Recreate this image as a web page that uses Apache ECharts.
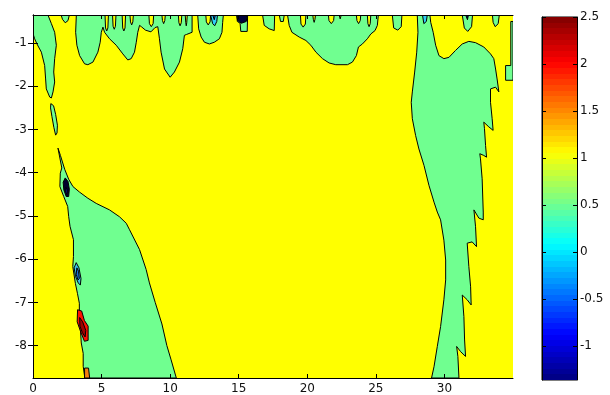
<!DOCTYPE html>
<html>
<head>
<meta charset="utf-8">
<script src="https://cdn.jsdelivr.net/npm/echarts@6/dist/echarts.min.js"></script>
<style>
html, body { margin: 0; padding: 0; background: #fff; }
#chart { width: 610px; height: 395px; }
</style>
</head>
<body>
<div id="chart"></div>
<script>
// axis ranges / ticks
const xRange = [0, 35]
const yRange = [-8.75, -0.35]
const xTicks = [0, 5, 10, 15, 20, 25, 30]
const yTicks = [-8, -7, -6, -5, -4, -3, -2, -1]
const cbRange = [-1.36, 2.5]
const cbTicks = [-1, -0.5, 0, 0.5, 1, 1.5, 2, 2.5]

// contour regions (level ~0.5, green), [x, y] in data units
const greenTopLeft = [[0, -0.35], [1.09, -0.35], [1.34, -0.55], [1.58, -0.75], [1.7, -1.05], [1.58, -1.36], [1.51, -1.67], [1.58, -1.9], [1.46, -2.13], [1.34, -2.27], [1.22, -2.25], [0.97, -2.06], [0.92, -1.83], [0.85, -1.52], [0.61, -1.21], [0.29, -1.02], [0.12, -0.9], [0, -0.78]]
const greenDrip1 = [[2.05, -0.35], [2.65, -0.35], [2.55, -0.48], [2.35, -0.53], [2.15, -0.45]]
const greenStrand = [[1.3, -2.4], [1.5, -2.45], [1.65, -2.65], [1.78, -2.9], [1.75, -3.08], [1.65, -3.13], [1.52, -2.95], [1.38, -2.7], [1.28, -2.5]]
const greenLobes = [[3.16, -0.35], [11.6, -0.35], [11.6, -0.75], [11.2, -0.8], [11.04, -0.82], [10.92, -1.13], [10.68, -1.44], [10.31, -1.67], [10.0, -1.79], [9.59, -1.6], [9.34, -1.21], [9.22, -0.9], [9.1, -0.62], [8.9, -0.64], [8.6, -0.74], [8.2, -0.7], [7.9, -0.62], [7.77, -0.59], [7.64, -0.75], [7.53, -0.98], [7.4, -1.21], [7.16, -1.36], [6.91, -1.39], [6.55, -1.25], [6.07, -1.05], [5.58, -0.9], [5.22, -0.75], [5.1, -0.63], [4.98, -0.75], [4.9, -0.98], [4.73, -1.21], [4.37, -1.44], [4.0, -1.5], [3.76, -1.48], [3.4, -1.29], [3.2, -1.05], [3.11, -0.75]]
const greenCyanArea = [[12.01, -0.35], [13.88, -0.35], [13.83, -0.52], [13.78, -0.75], [13.59, -0.9], [13.22, -0.98], [12.86, -1.02], [12.5, -0.98], [12.26, -0.86], [12.08, -0.67]]
const greenDarkArea = [[14.85, -0.35], [15.65, -0.35], [15.62, -0.73], [15.15, -0.73], [15.1, -0.54], [14.9, -0.5]]
const greenDrip2 = [[16.74, -0.35], [17.62, -0.35], [17.59, -0.71], [17.22, -0.67], [16.86, -0.59]]
const greenDrip3 = [[17.96, -0.35], [18.32, -0.35], [18.25, -0.5], [18.05, -0.5]]
const greenBasin = [[18.56, -0.35], [25.18, -0.35], [25.11, -0.59], [24.94, -0.71], [24.63, -0.79], [24.38, -0.9], [24.02, -1.02], [23.73, -1.09], [23.58, -1.29], [23.29, -1.44], [22.93, -1.5], [22.08, -1.5], [21.59, -1.46], [21.11, -1.36], [20.63, -1.21], [20.26, -1.05], [19.9, -0.94], [19.41, -0.86], [18.88, -0.75], [18.68, -0.59]]
const greenDrip4 = [[26.2, -0.35], [26.9, -0.35], [26.85, -0.62], [26.6, -0.7], [26.3, -0.65]]
const greenRightBand = [[28.02, -0.35], [28.07, -0.75], [27.98, -1.21], [27.83, -1.67], [27.66, -2.13], [27.58, -2.37], [27.66, -2.75], [27.9, -3.14], [28.14, -3.45], [28.51, -3.83], [28.87, -4.29], [29.24, -4.68], [29.48, -4.91], [29.72, -5.09], [29.96, -5.56], [30.09, -6.02], [30.09, -6.48], [29.96, -6.94], [29.72, -7.56], [29.48, -8.02], [29.24, -8.49], [29.06, -8.75],
  [31.06, -8.75], [30.98, -8.25], [30.89, -8.02], [31.18, -8.14], [31.54, -8.25], [31.47, -7.87], [31.42, -7.33], [31.3, -6.83], [31.66, -6.94], [31.95, -7.06], [31.91, -6.64], [31.78, -6.17], [31.66, -5.63], [32.02, -5.6], [32.34, -5.71], [32.27, -5.25], [32.15, -4.86], [32.51, -5.05], [32.83, -5.09], [32.83, -4.91], [32.75, -4.14], [32.63, -3.68], [32.58, -3.56], [32.87, -3.6], [33.07, -3.64], [33.0, -3.37], [32.92, -2.98], [32.87, -2.83], [33.24, -2.94], [33.55, -3.02], [33.48, -2.75], [33.36, -2.37], [33.36, -2.06], [33.73, -2.02], [33.97, -2.13], [33.84, -1.83], [33.73, -1.6], [33.6, -1.36], [33.36, -1.25], [32.87, -1.09], [32.27, -0.99], [31.78, -0.96], [31.3, -1.02], [30.81, -1.17], [30.33, -1.33], [29.96, -1.36], [29.6, -1.29], [29.36, -1.05], [29.18, -0.75], [29.0, -0.52], [28.94, -0.35]]
const greenDrip5 = [[31.3, -0.35], [32.05, -0.35], [31.98, -0.62], [31.7, -0.73], [31.45, -0.65]]
const greenDrip6 = [[33.5, -0.35], [34.0, -0.35], [33.92, -0.55], [33.7, -0.62], [33.55, -0.52]]
const greenEdge = [[34.84, -0.5], [35, -0.5], [35, -1.86], [34.46, -1.86], [34.46, -1.52], [34.84, -1.52]]
const greenLowerLeft = [[1.82, -3.43], [2.1, -3.89], [1.99, -4.01], [1.96, -4.32], [2.24, -4.55], [2.53, -4.78], [2.6, -5.01], [2.7, -5.24], [2.95, -5.55], [2.95, -5.94], [2.9, -6.17], [3.09, -6.56], [3.24, -6.79], [3.38, -7.02], [3.38, -7.25], [3.52, -7.94], [3.66, -8.18], [3.66, -8.48], [3.78, -8.75],
  [10.45, -8.75], [10.07, -8.33], [9.76, -8.0], [9.4, -7.5], [8.91, -7.0], [8.49, -6.55], [8.25, -6.24], [7.77, -5.78], [7.04, -5.32], [6.8, -5.17], [6.31, -5.02], [5.58, -4.86], [4.61, -4.71], [4.0, -4.59], [3.4, -4.45], [2.91, -4.32], [2.6, -4.15], [2.31, -3.92], [2.0, -3.6]]

// yellow drips cutting into green: [xLeft, xRight, yBottom]
const yellowFingers = [[5.25, 5.5, -0.72], [5.8, 6.05, -0.68], [6.5, 6.75, -0.72], [7.07, 7.32, -0.58], [8.45, 8.8, -0.62], [9.4, 9.65, -0.55], [10.6, 10.85, -0.6], [11.1, 11.25, -0.6], [12.6, 12.95, -0.58], [19.5, 19.9, -0.63], [20.4, 20.6, -0.52], [21.54, 21.96, -0.55], [22.3, 22.5, -0.44], [23.58, 23.9, -0.55], [24.38, 24.63, -0.62]]

// small extreme spots
const cyanTop = [[12.95, -0.35], [13.45, -0.35], [13.4, -0.5], [13.25, -0.6], [13.1, -0.55]]
const blueTop = [[13.1, -0.35], [13.3, -0.35], [13.22, -0.46]]
const darkTop = [[14.87, -0.35], [15.62, -0.35], [15.55, -0.5], [15.2, -0.54], [14.92, -0.48]]
const cyanTopRight = [[28.4, -0.35], [28.75, -0.35], [28.68, -0.5], [28.5, -0.55]]
const darkTopRight = [[31.55, -0.35], [31.75, -0.35], [31.68, -0.46]]
const darkSpot = [[2.35, -4.12], [2.55, -4.2], [2.65, -4.38], [2.6, -4.55], [2.42, -4.55], [2.25, -4.4], [2.2, -4.22]]
const blueSpotCore = [[2.4, -4.33], [2.5, -4.4], [2.47, -4.5], [2.38, -4.45]]
const cyanSpot = [[3.15, -6.08], [3.35, -6.2], [3.5, -6.45], [3.45, -6.6], [3.3, -6.55], [3.1, -6.4], [3.0, -6.2]]
const cyanSpotCore = [[3.2, -6.2], [3.32, -6.28], [3.38, -6.45], [3.28, -6.48], [3.15, -6.35]]
const redSpot = [[3.25, -7.17], [3.55, -7.2], [3.75, -7.42], [4.02, -7.55], [4.02, -7.88], [3.75, -7.9], [3.5, -7.7], [3.22, -7.45]]
const redSpotCore = [[3.4, -7.35], [3.62, -7.45], [3.85, -7.65], [3.8, -7.8], [3.6, -7.7], [3.42, -7.55]]
const orangeSpot = [[3.76, -8.52], [4.05, -8.52], [4.13, -8.75], [3.76, -8.75]]

const GREEN = '#70ff90'
const YELLOW = '#ffff00'

const fingerShape = (f) => {
  const top = yRange[1]
  return [[f[0], top], [f[1], top], [f[1] - 0.04, f[2] + 0.07], [(f[0] + f[1]) / 2, f[2]], [f[0] + 0.04, f[2] + 0.07]]
}

let layers = []
;[greenTopLeft, greenDrip1, greenStrand, greenLobes, greenCyanArea, greenDarkArea, greenDrip2, greenDrip3,
  greenBasin, greenDrip4, greenRightBand, greenDrip5, greenDrip6, greenEdge, greenLowerLeft].forEach(p => {
  layers.push({ pts: p, fill: GREEN })
})
yellowFingers.forEach(f => layers.push({ pts: fingerShape(f), fill: YELLOW }))
layers.push({ pts: cyanTop, fill: '#30d0f8' })
layers.push({ pts: blueTop, fill: '#1060e0' })
layers.push({ pts: darkTop, fill: '#00003a' })
layers.push({ pts: cyanTopRight, fill: '#30d0f8' })
layers.push({ pts: darkTopRight, fill: '#00006a' })
layers.push({ pts: darkSpot, fill: '#00002e' })
layers.push({ pts: blueSpotCore, fill: '#0010c0' })
layers.push({ pts: cyanSpot, fill: '#38c8f0' })
layers.push({ pts: cyanSpotCore, fill: '#1870d8' })
layers.push({ pts: redSpot, fill: '#ff1000' })
layers.push({ pts: redSpotCore, fill: '#a00000' })
layers.push({ pts: orangeSpot, fill: '#f58010' })

// jet colormap, 64 steps, for the colour bar
const jet = (t) => {
  const c = (v) => Math.round(255 * Math.max(0, Math.min(1, v)))
  return 'rgb(' + c(1.5 - Math.abs(4 * t - 3)) + ',' + c(1.5 - Math.abs(4 * t - 2)) + ',' + c(1.5 - Math.abs(4 * t - 1)) + ')'
}
let jetStops = []
for (let k = 0; k < 64; k++) {
  const col = jet((k + 0.5) / 64)
  jetStops.push({ offset: k / 64, color: col })
  jetStops.push({ offset: (k + 1) / 64, color: col })
}

const font = 'DejaVu Sans, Liberation Sans, sans-serif'
const tickAxis = (extra) => Object.assign({
  type: 'value',
  z: 10,
  axisLine: { show: true, lineStyle: { color: '#000', width: 1 } },
  splitLine: { show: false },
  axisTick: { show: true, inside: true, length: 5, lineStyle: { color: '#000' } },
  axisLabel: { show: false }
}, extra)

const chart = echarts.init(document.getElementById('chart'))
chart.setOption({
  animation: false,
  backgroundColor: '#fff',
  grid: [
    { left: 33, top: 15, width: 480, height: 363, show: true, backgroundColor: YELLOW, borderWidth: 0 },
    { left: 542, top: 17, width: 35, height: 363, show: true, backgroundColor: 'transparent', borderColor: '#000', borderWidth: 1 }
  ],
  xAxis: [
    tickAxis({
      gridIndex: 0, position: 'bottom', min: xRange[0], max: xRange[1],
      axisTick: { show: true, inside: true, length: 4, customValues: xTicks, lineStyle: { color: '#000' } },
      axisLabel: { show: true, customValues: xTicks, color: '#111', fontSize: 12, fontFamily: font, margin: 5 }
    }),
    tickAxis({
      gridIndex: 0, position: 'top', min: xRange[0], max: xRange[1],
      axisTick: { show: true, inside: true, length: 4, customValues: xTicks, lineStyle: { color: '#000' } }
    }),
    tickAxis({ gridIndex: 1, min: 0, max: 1, axisLine: { show: false }, axisTick: { show: false } })
  ],
  yAxis: [
    tickAxis({
      gridIndex: 0, position: 'left', min: yRange[0], max: yRange[1],
      axisTick: { show: true, inside: true, length: 5, customValues: yTicks, lineStyle: { color: '#000' } },
      axisLabel: { show: true, customValues: yTicks, color: '#111', fontSize: 12, fontFamily: font, margin: 6 }
    }),
    tickAxis({
      gridIndex: 0, position: 'right', min: yRange[0], max: yRange[1],
      axisTick: { show: true, inside: true, length: 5, customValues: yTicks, lineStyle: { color: '#000' } }
    }),
    tickAxis({
      gridIndex: 1, position: 'left', min: cbRange[0], max: cbRange[1],
      axisTick: { show: true, inside: true, length: 4, customValues: cbTicks, lineStyle: { color: '#000' } }
    }),
    tickAxis({
      gridIndex: 1, position: 'right', min: cbRange[0], max: cbRange[1],
      axisTick: { show: true, inside: true, length: 4, customValues: cbTicks, lineStyle: { color: '#000' } },
      axisLabel: { show: true, customValues: cbTicks, color: '#111', fontSize: 12, fontFamily: font, margin: 3 }
    })
  ],
  series: [
    {
      type: 'custom',
      xAxisIndex: 0,
      yAxisIndex: 0,
      clip: true,
      encode: { x: 0, y: 1 },
      data: layers.map(l => [l.pts[0][0], l.pts[0][1]]),
      renderItem: (params, api) => {
        const layer = layers[params.dataIndex]
        return {
          type: 'polygon',
          shape: { points: layer.pts.map(p => api.coord(p)) },
          style: { fill: layer.fill, stroke: '#000', lineWidth: 1 }
        }
      }
    },
    {
      type: 'custom',
      xAxisIndex: 2,
      yAxisIndex: 2,
      encode: { x: 0, y: 1 },
      data: [[0, cbRange[1]]],
      renderItem: (params, api) => {
        const a = api.coord([0, cbRange[1]])
        const b = api.coord([1, cbRange[0]])
        return {
          type: 'rect',
          shape: { x: a[0], y: a[1], width: b[0] - a[0], height: b[1] - a[1] },
          style: { fill: new echarts.graphic.LinearGradient(0, 1, 0, 0, jetStops) }
        }
      }
    }
  ]
})
</script>
</body>
</html>
